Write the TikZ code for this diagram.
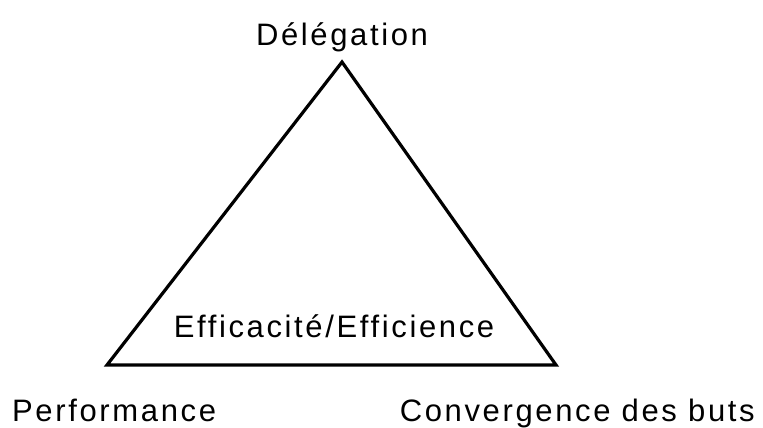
\documentclass[tikz,border=0pt]{standalone}
\usepackage{fontspec}
\setmainfont{Liberation Sans}[LetterSpace=8.5]
\begin{document}
\begin{tikzpicture}[x=1pt,y=-1pt,
  lbl/.style={inner sep=0pt,font=\fontsize{31}{36}\selectfont},
  edge/.style={line width=3.2pt,line join=miter}]
\useasboundingbox (0,0) rectangle (763,428);
\coordinate (top) at (342,62);
\coordinate (left) at (107,365);
\coordinate (right) at (556,365);
\draw[edge] (top) -- (left) -- (right) -- cycle;
\node[lbl,anchor=base] (del) at (342,46) {Délégation};
\node[lbl,anchor=base west] (perf) at (12,421) {Performance};
\node[lbl,anchor=base east] (conv) at (755,421) {Convergence des buts};
\node[lbl,anchor=base] (eff) at (334,337) {Efficacité/Efficience};
\end{tikzpicture}
\end{document}
